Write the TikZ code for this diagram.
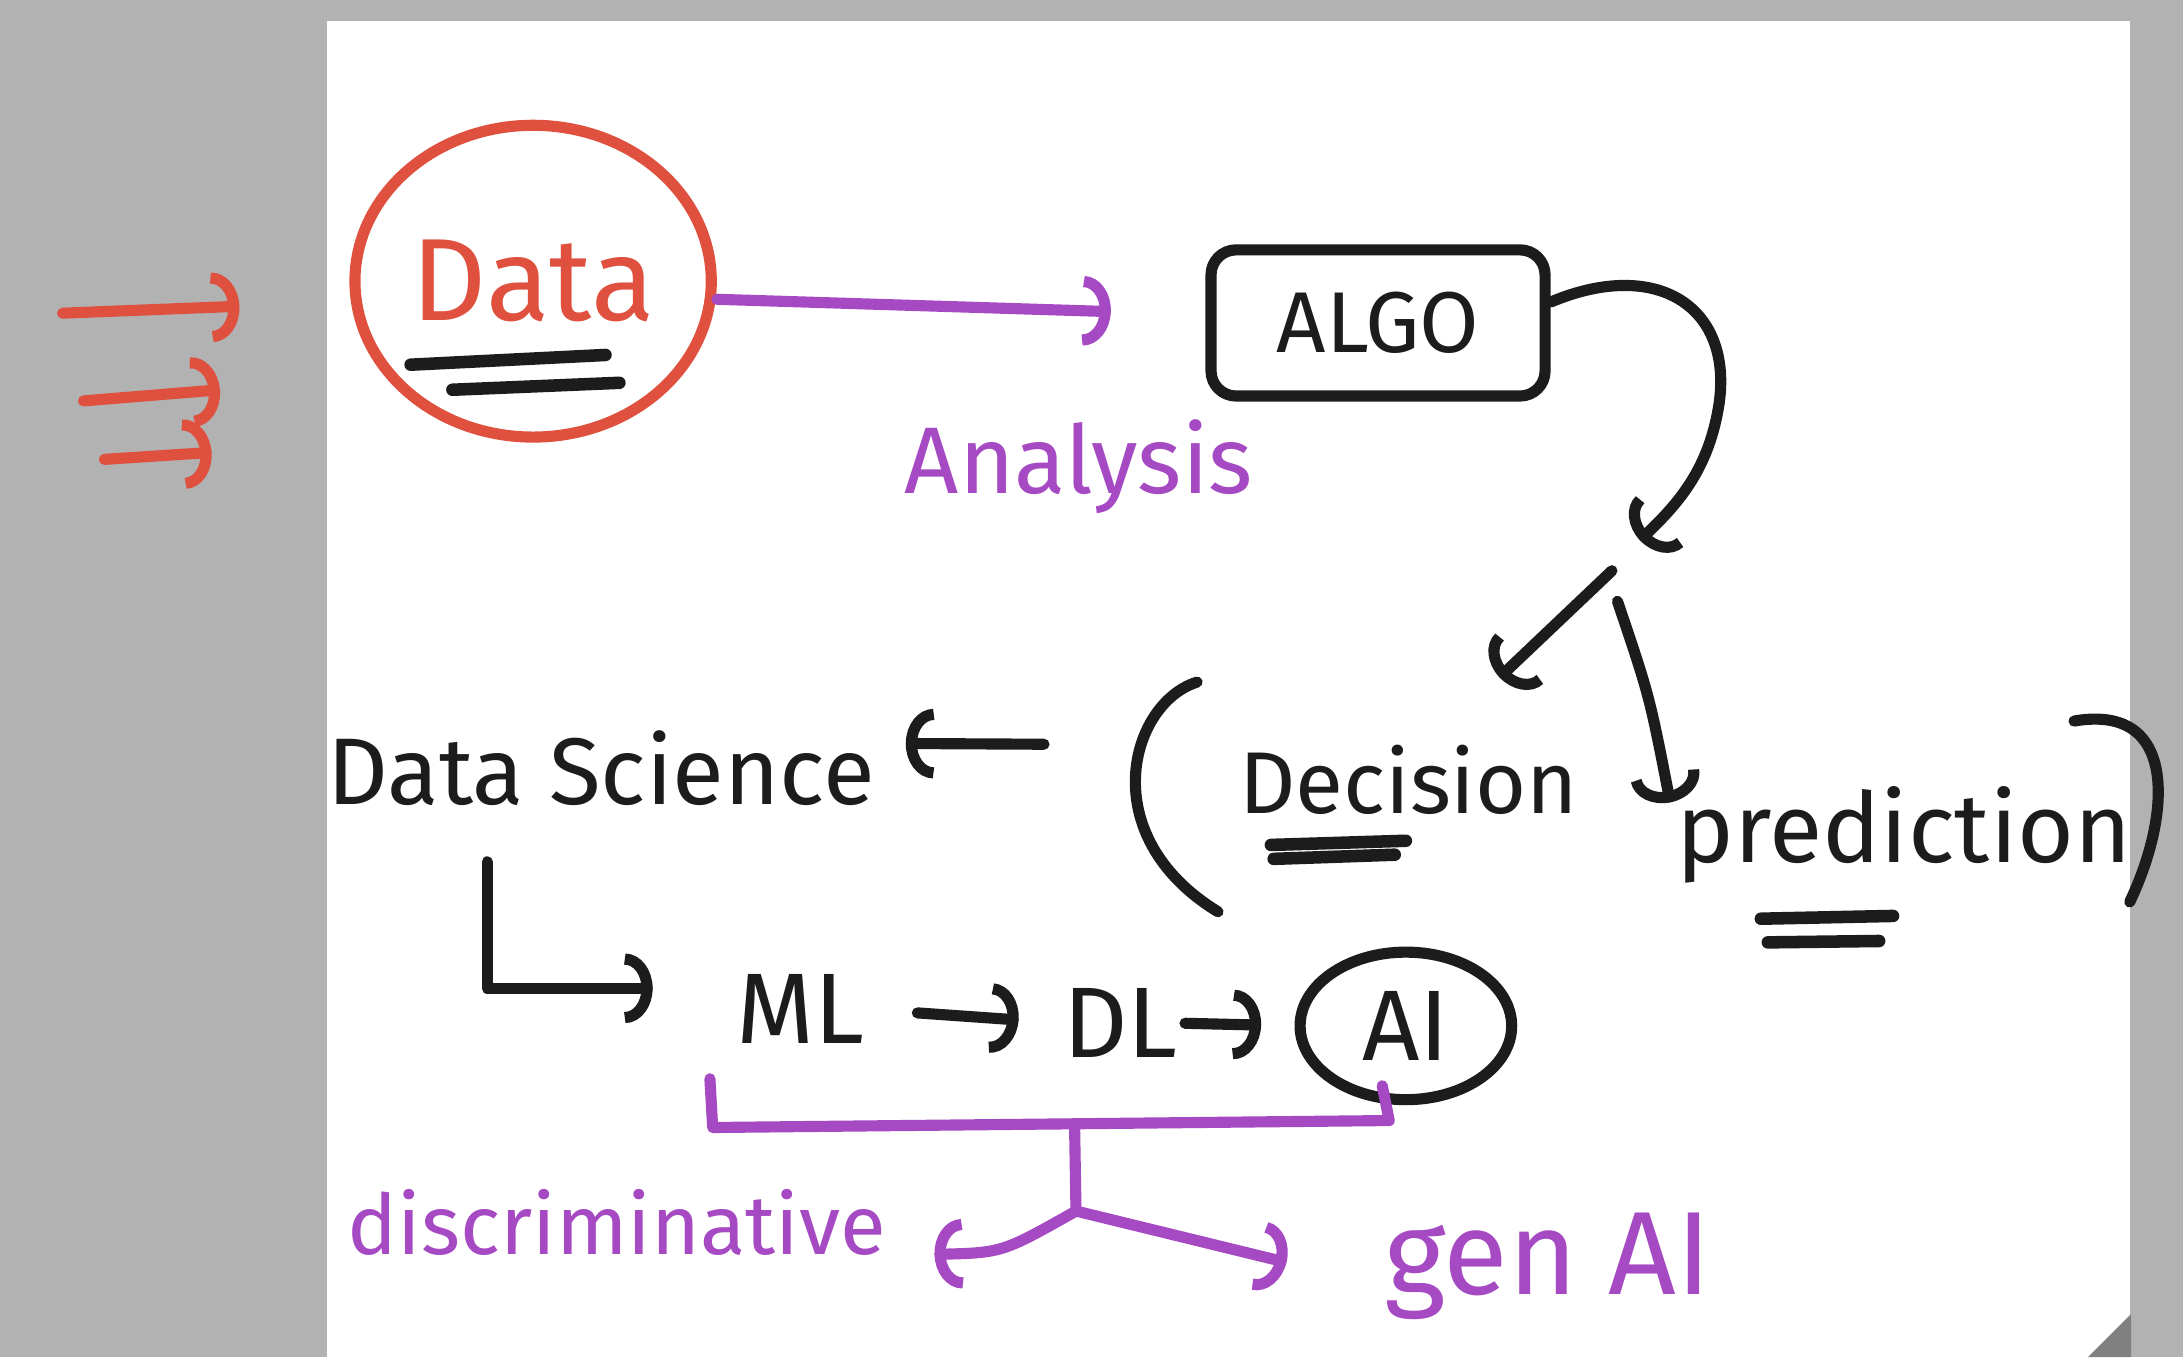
\documentclass[tikz,border=0pt]{standalone}
\usepackage{fontspec}
\setmainfont{Fira Sans}
\usetikzlibrary{arrows.meta,shapes.geometric}
\definecolor{inkred}{HTML}{E0503F}
\definecolor{inkpurple}{HTML}{A64AC4}
\definecolor{ink}{HTML}{1C1C1C}
\definecolor{margin}{HTML}{B2B2B2}
\newcommand\hw[1]{\fontsize{#1}{#1}\selectfont}
\begin{document}
\begin{tikzpicture}[x=1pt, y=-1pt, line cap=round, line join=round,
  pen/.style={line width=8pt},
  word/.style={inner sep=0pt, text=ink},
  hand/.style={pen, -{Arc Barb[length=20pt, width=50pt]}},
  ring/.style={ellipse, pen, inner sep=0pt},
  uline/.style={ink, line width=9pt}]
% sheet
\fill[margin] (0,0) rectangle (1568,975);
\fill[white] (235,15) rectangle (1530,975);
\fill[black!50] (1500,975) -- (1531,944) -- (1531,975) -- cycle;
% top row
\node[ring, draw=inkred, text=inkred, minimum width=256, minimum height=224,
  font=\hw{84}] (data) at (383,202) {Data};
\draw[uline] (295,262) -- (435,255); \draw[uline] (325,280) -- (445,275);
\node[draw=ink, pen, rounded corners=18pt, minimum width=240, minimum height=105,
  text=ink, font=\hw{62}] (algo) at (990,232) {ALGO};
\draw[hand, inkpurple, shorten >=68pt] ([yshift=-13pt]data.east) -- ([yshift=6pt]algo.west);
\node[word, text=inkpurple, font=\hw{68}] (analysis) at (775,335) {Analysis};
% incoming
\foreach \i/\xa/\ya/\xb/\yb in {1/45/225/172/220, 2/60/288/158/280, 3/75/330/152/325} {
  \coordinate (s\i) at (\xa,\ya); \coordinate (e\i) at (\xb,\yb);
  \draw[hand, inkred] (s\i) -- (e\i);
}
% algo output
\coordinate (fork) at (1178,388);
\coordinate (forkL) at (1158,410);
\coordinate (forkR) at (1162,432);
\draw[hand, ink] ([yshift=15pt]algo.east) .. controls (1190,185) and (1245,220) .. (1235,290)
  .. controls (1228,335) and (1208,360) .. (fork);
\node[word, font=\hw{63}] (decision) at (1012,560) {Decision};
\node[word, font=\hw{70}] (prediction) at (1368,600) {prediction};
\draw[hand, ink, shorten >=70pt] (forkL) -- (decision.60);
\draw[hand, ink, shorten >=24pt] (forkR) .. controls (1185,500) .. (prediction.west);
\draw[uline] (913,607) -- (1010,604); \draw[uline] (915,617) -- (1002,614);
\draw[uline] (1265,660) -- (1360,658); \draw[uline] (1270,677) -- (1350,676);
\coordinate (lparen) at (812,535);
\draw[ink, pen] (860,490) .. controls (812,505) and (785,600) .. (875,655);
\draw[ink, pen] (1490,518) .. controls (1565,505) and (1560,585) .. (1530,648);
% middle row
\node[word, font=\hw{68}] (ds) at (432,552) {Data Science};
\draw[hand, ink, shorten <=62pt, shorten >=22pt] (lparen) -- ([yshift=18pt]ds.east);
\node[word, font=\hw{72}] (ml) at (575,725) {ML};
\node[word, font=\hw{72}] (dl) at (805,735) {DL};
\node[ring, draw=ink, text=ink, minimum width=152, minimum height=106,
  font=\hw{72}] (ai) at (1010,737) {AI};
\draw[hand, ink, shorten <=40pt, shorten >=60pt] ([xshift=-82pt]ds.south) |- ([yshift=15pt]ml.west);
\draw[hand, ink, shorten <=38pt, shorten >=32pt] (ml.east) -- (dl.west);
\draw[hand, ink, shorten <=5pt, shorten >=24pt] (dl.east) -- (ai.west);
% bottom split
\draw[inkpurple, pen] (510,775) -- (512,810) -- (998,805) -- (993,780);
\coordinate (brk) at (772,810);
\coordinate (split) at (773,870);
\draw[inkpurple, pen] (brk) -- (split);
\node[word, text=inkpurple, font=\hw{60}] (disc) at (443,878) {discriminative};
\node[word, text=inkpurple, font=\hw{85}] (genai) at (1112,910) {gen AI};
\draw[hand, inkpurple, shorten >=35pt] (split) .. controls (720,900) .. (disc.south east);
\draw[hand, inkpurple, shorten >=72pt] (split) -- ([yshift=-14pt]genai.west);
\end{tikzpicture}
\end{document}
